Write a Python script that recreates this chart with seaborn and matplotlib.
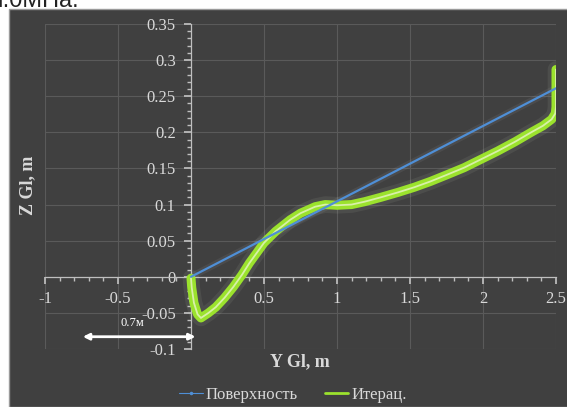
import matplotlib
matplotlib.use('Agg')
import matplotlib.pyplot as plt
from matplotlib.patches import Rectangle
import seaborn as sns

# Data
surfY = [0.0, 2.5]
surfZ = [0.0, 0.261]

iterY = [0.0, 0.005, 0.02, 0.045, 0.068, 0.12, 0.17, 0.23, 0.29, 0.35, 0.40, 0.45, 0.50,
         0.58, 0.68, 0.75, 0.85, 0.92, 1.0, 1.1, 1.19, 1.3, 1.42, 1.53, 1.64, 1.75,
         1.87, 1.98, 2.1, 2.22, 2.33, 2.41, 2.47, 2.495, 2.5, 2.5]
iterZ = [-0.002, -0.015, -0.036, -0.052, -0.057, -0.05, -0.042, -0.029, -0.014, 0.003,
         0.019, 0.033, 0.047, 0.063, 0.079, 0.088, 0.097, 0.1, 0.099, 0.1, 0.104,
         0.11, 0.117, 0.124, 0.132, 0.141, 0.151, 0.162, 0.174, 0.187, 0.2, 0.209,
         0.218, 0.226, 0.235, 0.287]

xTicks = [-1, -0.5, 0, 0.5, 1, 1.5, 2, 2.5]
xTickLabels = ['-1', '-0.5', '0', '0.5', '1', '1.5', '2', '2.5']
yTicks = [-0.1, -0.05, 0, 0.05, 0.1, 0.15, 0.2, 0.25, 0.3, 0.35]
yTickLabels = ['-0.1', '-0.05', '0', '0.05', '0.1', '0.15', '0.2', '0.25', '0.3', '0.35']

bg = '#404040'
txt = '#d9d9d9'
grid = '#5a5a5a'

sns.set_theme(style='dark')
plt.rcParams['font.family'] = ['Liberation Serif', 'DejaVu Serif']

fig = plt.figure(figsize=(5.67, 4.07), dpi=100, facecolor='white')
fig.patches.append(Rectangle((9 / 567, 0), 1, 1 - 9 / 407, transform=fig.transFigure,
                             facecolor=bg, edgecolor='#9a9a9a', linewidth=1, zorder=-10))
fig.text(-0.004, 1 - 7 / 407, 'г.0МПа.', family='Liberation Sans', fontsize=17,
         color='#222222', va='baseline', ha='left')

ax = fig.add_axes([45 / 567, 1 - 349 / 407, (556 - 45) / 567, (349 - 24) / 407])
ax.set_facecolor(bg)

# soft glow + thick line + light core for the iteration curve
ax.plot(iterY, iterZ, color='#e0e8d0', linewidth=12, alpha=0.08, solid_capstyle='round',
        solid_joinstyle='round', zorder=3)
ax.plot(surfY, surfZ, color='#d0d8e0', linewidth=5, alpha=0.08, zorder=3)
sns.lineplot(x=iterY, y=iterZ, sort=False, estimator=None, color='#9be22d', linewidth=6.5,
             solid_capstyle='round', solid_joinstyle='round', ax=ax, zorder=4)
ax.plot(iterY, iterZ, color='#d8f0a8', linewidth=1.3, solid_joinstyle='round', zorder=5)
sns.lineplot(x=surfY, y=surfZ, sort=False, estimator=None, color='#4f8fd6', linewidth=1.6,
             ax=ax, zorder=6)

ax.set_xlim(-1, 2.5)
ax.set_ylim(-0.1, 0.35)
ax.set_xticks(xTicks)
ax.set_xticklabels(xTickLabels)
ax.set_yticks(yTicks)
ax.set_yticklabels(yTickLabels)
ax.set_xticks([i / 10 for i in range(-10, 26)], minor=True)
ax.set_yticks([i / 100 for i in range(-10, 36)], minor=True)
ax.grid(True, which='major', color=grid, linewidth=0.8)

# axes cross at zero
ax.spines['left'].set_position(('data', 0))
ax.spines['bottom'].set_position(('data', 0))
ax.spines['right'].set_visible(False)
ax.spines['top'].set_visible(False)
for s in ['left', 'bottom']:
    ax.spines[s].set_color('#bfbfbf')
    ax.spines[s].set_linewidth(0.9)
ax.tick_params(which='major', direction='out', length=5, color='#bfbfbf', labelcolor=txt,
               labelsize=12, left=True, bottom=True)
ax.tick_params(axis='y', which='major', pad=6)
ax.tick_params(axis='x', which='major', pad=5)
ax.tick_params(which='minor', direction='out', length=3, color='#bfbfbf', left=True, bottom=True)

ax.set_xlabel('')
ax.set_ylabel('')
fig.text(28 / 567, 1 - 185 / 407, 'Z Gl, m', rotation=90, color=txt, fontsize=13,
         fontweight='bold', ha='center', va='center')
fig.text(300 / 567, 1 - 362 / 407, 'Y Gl, m', color=txt, fontsize=13,
         fontweight='bold', ha='center', va='center')

# width annotation
ax.annotate('', xy=(-0.76, -0.083), xytext=(0.05, -0.083),
            arrowprops=dict(arrowstyle='<|-|>', color='white', lw=2, mutation_scale=9))
ax.text(-0.40, -0.064, '0.7м', color='white', fontsize=9, ha='center', va='center')

# legend
hSurf, = ax.plot([], [], color='#4f8fd6', marker='.', markersize=3, linewidth=0.8)
hIter, = ax.plot([], [], color='#9be22d', linewidth=2)
leg = fig.legend([hSurf, hIter], ['Поверхность', 'Итерац.'], loc='center',
                 bbox_to_anchor=(293 / 567, 1 - 395 / 407), ncol=2, frameon=False, fontsize=12,
                 handlelength=1.4, handletextpad=0.2, columnspacing=1.6)
for t in leg.get_texts():
    t.set_color(txt)

fig.savefig('out.png', dpi=100, facecolor=fig.get_facecolor())
